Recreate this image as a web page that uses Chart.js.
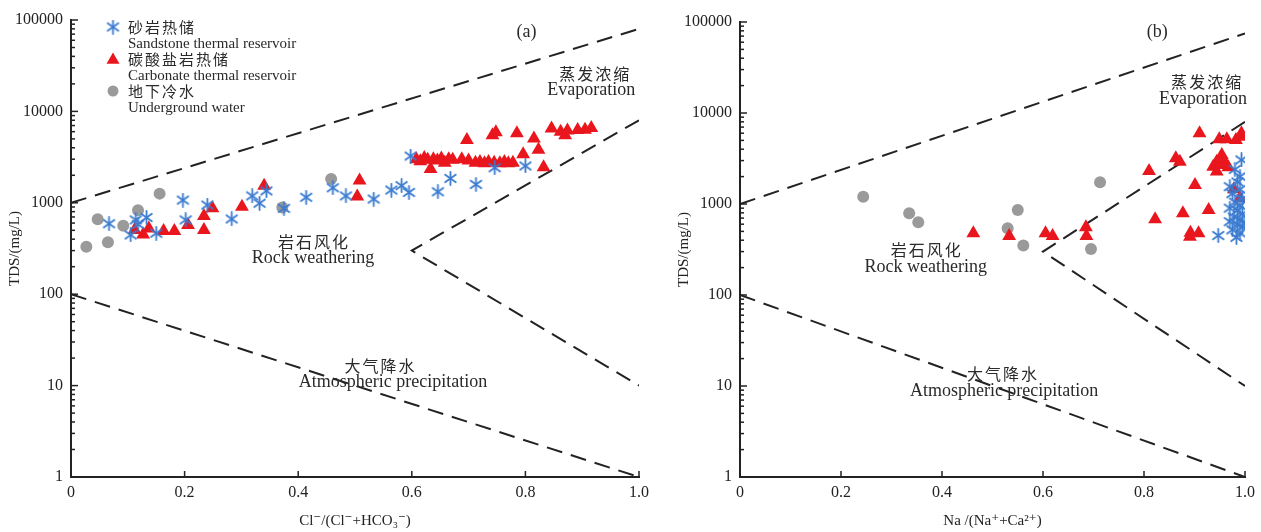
<!DOCTYPE html>
<html>
<head>
<meta charset="utf-8">
<script src="https://cdn.jsdelivr.net/npm/chart.js@4.4.1/dist/chart.umd.min.js"></script>
<style>
  html, body { margin: 0; padding: 0; background: #fff; }
  #wrap { position: relative; width: 1261px; height: 532px; }
  #boxA { position: absolute; left: 0; top: 0; width: 655px; height: 532px; }
  #boxB { position: absolute; left: 665px; top: 0; width: 596px; height: 532px; }
</style>
</head>
<body>
<div id="wrap">
  <div id="boxA"><canvas id="chartA"></canvas></div>
  <div id="boxB"><canvas id="chartB"></canvas></div>
</div>
<script>
// axis ticks
const xTicks = [0, 0.2, 0.4, 0.6, 0.8, 1.0];
const yTicks = [1, 10, 100, 1000, 10000, 100000];

// (a) Cl-/(Cl- + HCO3-) vs TDS
const sandstoneA = [
  [0.067, 590], [0.105, 445], [0.114, 650], [0.118, 580], [0.133, 690], [0.150, 465],
  [0.197, 1070], [0.202, 650], [0.240, 945], [0.283, 665], [0.319, 1190], [0.332, 990],
  [0.344, 1350], [0.375, 870], [0.414, 1150], [0.461, 1460], [0.484, 1190], [0.533, 1100],
  [0.564, 1380], [0.582, 1540], [0.595, 1300], [0.598, 3250], [0.646, 1320], [0.668, 1850],
  [0.713, 1590], [0.746, 2420], [0.800, 2530]
];
const carbonateA = [
  [0.112, 505], [0.127, 450], [0.137, 525], [0.163, 490], [0.182, 490], [0.206, 570],
  [0.234, 715], [0.234, 505], [0.249, 870], [0.301, 905], [0.340, 1540], [0.508, 1750],
  [0.504, 1170], [0.608, 3000], [0.615, 2850], [0.622, 3100], [0.628, 2950], [0.633, 2350],
  [0.638, 3000], [0.645, 2900], [0.652, 3050], [0.658, 2750], [0.665, 3000], [0.672, 2950],
  [0.688, 3000], [0.697, 4850], [0.700, 2900], [0.712, 2750], [0.720, 2800], [0.728, 2700],
  [0.735, 2800], [0.742, 5500], [0.748, 5900], [0.745, 2750], [0.755, 2700], [0.763, 2800],
  [0.770, 2700], [0.778, 2750], [0.785, 5750], [0.796, 3400], [0.815, 5050], [0.823, 3800],
  [0.832, 2450], [0.846, 6500], [0.862, 6000], [0.870, 5500], [0.874, 6200], [0.892, 6250],
  [0.905, 6300], [0.916, 6600]
];
const groundA = [
  [0.027, 330], [0.047, 660], [0.065, 370], [0.092, 560], [0.118, 830], [0.156, 1260],
  [0.372, 890], [0.458, 1820]
];

// (b) Na/(Na+Ca) vs TDS
const sandstoneB = [
  [0.947, 450], [0.983, 430], [0.990, 480], [0.975, 520], [0.995, 560], [0.985, 600],
  [0.970, 640], [0.990, 680], [1.000, 620], [0.978, 720], [0.995, 780], [0.985, 850],
  [0.970, 900], [0.990, 960], [0.980, 1050], [0.995, 1150], [0.975, 1300], [0.990, 1450],
  [0.970, 1550], [0.985, 1750], [0.990, 2000], [0.980, 2400], [0.993, 3050]
];
const carbonateB = [
  [0.462, 476], [0.533, 445], [0.605, 476], [0.619, 445], [0.685, 555], [0.686, 445],
  [0.810, 2300], [0.822, 680], [0.863, 3180], [0.871, 2920], [0.877, 790], [0.891, 437],
  [0.892, 484], [0.901, 1620], [0.908, 476], [0.910, 5980], [0.928, 860], [0.937, 2570],
  [0.944, 2920], [0.944, 2270], [0.949, 5140], [0.954, 3450], [0.957, 2680], [0.964, 5140],
  [0.967, 2530], [0.958, 3000], [0.978, 1450], [0.982, 5050], [0.990, 1160], [0.990, 5500],
  [0.993, 5980]
];
const groundB = [
  [0.244, 1200], [0.335, 790], [0.353, 630], [0.530, 540], [0.550, 860], [0.561, 350],
  [0.695, 320], [0.713, 1730]
];

// Gibbs boundary lines
const upperA = [[0, 1000], [1, 80000]];
const upperB = [[0, 1000], [1, 75000]];
const lowerLine = [[0, 100], [1, 1]];
const evapLine = [[1, 8000], [0.6, 300], [1, 10]];

// text labels: [text, x, y, kind]
const notesA = [
  ['(a)', 0.802, 74000, 'en'],
  ['蒸发浓缩', 0.923, 25600, 'zh'], ['Evaporation', 0.916, 17100, 'en'],
  ['岩石风化', 0.428, 373, 'zh'], ['Rock weathering', 0.426, 249, 'en'],
  ['大气降水', 0.545, 16.4, 'zh'], ['Atmospheric precipitation', 0.567, 10.9, 'en']
];
const notesB = [
  ['(b)', 0.826, 77600, 'en'],
  ['蒸发浓缩', 0.925, 21900, 'zh'], ['Evaporation', 0.917, 14100, 'en'],
  ['岩石风化', 0.370, 312, 'zh'], ['Rock weathering', 0.368, 203, 'en'],
  ['大气降水', 0.521, 13.5, 'zh'], ['Atmospheric precipitation', 0.523, 8.8, 'en']
];

const legendRows = [
  ['star', '砂岩热储', 'Sandstone thermal reservoir'],
  ['triangle', '碳酸盐岩热储', 'Carbonate thermal reservoir'],
  ['circle', '地下冷水', 'Underground water']
];

const SERIF = '"Liberation Serif", "DejaVu Serif", serif';
const CJK = '"Noto Sans CJK SC", sans-serif';
const BLUE = '#3a7bd0';
const RED = '#e9161d';
const GRAY = '#9a9a9a';
const INK = '#222';

// asterisk marker (X with a vertical bar)
function makeStar(size) {
  const c = document.createElement('canvas');
  c.width = size; c.height = size;
  const g = c.getContext('2d');
  const r = size / 2 - 1, m = size / 2;
  g.strokeStyle = BLUE; g.lineWidth = 1.8; g.lineCap = 'round';
  [90, 35, 145].forEach(a => {
    const t = a * Math.PI / 180, dx = Math.cos(t) * r, dy = Math.sin(t) * r;
    g.beginPath(); g.moveTo(m - dx, m - dy); g.lineTo(m + dx, m + dy); g.stroke();
  });
  return c;
}
const starImg = makeStar(15);

function drawTriangle(ctx, x, y, r) {
  ctx.beginPath();
  ctx.moveTo(x, y - r);
  ctx.lineTo(x + r * 0.866, y + r * 0.5);
  ctx.lineTo(x - r * 0.866, y + r * 0.5);
  ctx.closePath();
  ctx.fill();
}

const pts = arr => arr.map(p => ({ x: p[0], y: p[1] }));
const dashed = arr => ({
  data: pts(arr), showLine: true, borderColor: INK, borderWidth: 2,
  borderDash: [16, 9], pointRadius: 0, fill: false, tension: 0
});

function decor(cfg) {
  return {
    id: 'decor',
    afterDraw(chart) {
      const { ctx, chartArea: area, scales: { x, y } } = chart;
      ctx.save();
      ctx.strokeStyle = INK;
      ctx.lineWidth = 1.5;
      // inward ticks
      xTicks.forEach(v => {
        const px = x.getPixelForValue(v);
        ctx.beginPath(); ctx.moveTo(px, area.bottom); ctx.lineTo(px, area.bottom - 6); ctx.stroke();
      });
      yTicks.forEach((v, i) => {
        const steps = i === yTicks.length - 1 ? 1 : 9;
        for (let m = 1; m <= steps; m++) {
          const py = y.getPixelForValue(v * m);
          const len = m === 1 ? 7 : 4;
          ctx.beginPath(); ctx.moveTo(area.left, py); ctx.lineTo(area.left + len, py); ctx.stroke();
        }
      });
      // region labels
      ctx.fillStyle = '#2a2a2a';
      ctx.textAlign = 'center';
      ctx.textBaseline = 'middle';
      cfg.notes.forEach(([t, vx, vy, kind]) => {
        ctx.font = kind === 'zh' ? '16px ' + CJK : '18px ' + SERIF;
        ctx.letterSpacing = kind === 'zh' ? '2px' : '0px';
        ctx.fillText(t, x.getPixelForValue(vx), y.getPixelForValue(vy));
      });
      ctx.letterSpacing = '0px';
      // legend
      if (cfg.legend) {
        const mx = area.left + 42, tx = area.left + 57;
        ctx.textAlign = 'left';
        legendRows.forEach(([shape, zh, en], i) => {
          const cy = area.top + 7 + i * 32;
          if (shape === 'star') ctx.drawImage(starImg, mx - 7.5, cy - 7.5);
          else if (shape === 'triangle') { ctx.fillStyle = RED; drawTriangle(ctx, mx, cy + 1, 7.5); }
          else { ctx.fillStyle = GRAY; ctx.beginPath(); ctx.arc(mx, cy, 5.5, 0, Math.PI * 2); ctx.fill(); }
          ctx.fillStyle = '#2a2a2a';
          ctx.font = '15px ' + CJK;
          ctx.letterSpacing = '2px';
          ctx.fillText(zh, tx, cy);
          ctx.letterSpacing = '0px';
          ctx.font = '15px ' + SERIF;
          ctx.fillText(en, tx, cy + 17);
        });
      }
      ctx.restore();
    }
  };
}

function buildChart(id, cfg) {
  return new Chart(document.getElementById(id), {
    type: 'scatter',
    data: {
      datasets: [
        { data: pts(cfg.sandstone), pointStyle: starImg, pointRadius: 7 },
        { data: pts(cfg.carbonate), pointStyle: 'triangle', pointRadius: 8,
          backgroundColor: RED, borderColor: RED, borderWidth: 0 },
        { data: pts(cfg.ground), pointStyle: 'circle', pointRadius: 6,
          backgroundColor: GRAY, borderColor: GRAY, borderWidth: 0 },
        dashed(cfg.upper), dashed(lowerLine), dashed(evapLine)
      ]
    },
    options: {
      responsive: true,
      maintainAspectRatio: false,
      animation: false,
      layout: { padding: { left: 0, right: cfg.padRight, top: cfg.padTop, bottom: 0 } },
      plugins: { legend: { display: false }, tooltip: { enabled: false } },
      scales: {
        x: {
          type: 'linear', min: 0, max: 1,
          afterBuildTicks: s => { s.ticks = xTicks.map(v => ({ value: v })); },
          afterFit: s => { s.height = 55; },
          ticks: {
            callback: v => (v === 0 ? '0' : v.toFixed(1)),
            font: { family: SERIF, size: 16 }, color: INK, padding: 6,
            maxRotation: 0, autoSkip: false
          },
          grid: { display: false, drawTicks: false },
          border: { display: true, color: INK, width: 2 },
          title: {
            display: true, text: cfg.xTitle, color: INK,
            font: { family: SERIF, size: 15 }, padding: { top: 0, bottom: 2 }
          }
        },
        y: {
          type: 'logarithmic', min: 1, max: 100000,
          afterBuildTicks: s => { s.ticks = yTicks.map(v => ({ value: v })); },
          afterFit: s => { s.width = cfg.yWidth; },
          ticks: {
            callback: v => String(v),
            font: { family: SERIF, size: 16 }, color: INK, padding: 8, autoSkip: false
          },
          grid: { display: false, drawTicks: false },
          border: { display: true, color: INK, width: 2 },
          title: {
            display: true, text: 'TDS/(mg/L)', color: INK,
            font: { family: SERIF, size: 15 }, padding: { top: cfg.titlePad, bottom: 0 }
          }
        }
      }
    },
    plugins: [decor(cfg)]
  });
}

buildChart('chartA', {
  sandstone: sandstoneA, carbonate: carbonateA, ground: groundA,
  upper: upperA, notes: notesA, legend: true,
  xTitle: 'Cl⁻/(Cl⁻+HCO₃⁻)',
  yWidth: 71, padRight: 14, padTop: 20, titlePad: 6
});
buildChart('chartB', {
  sandstone: sandstoneB, carbonate: carbonateB, ground: groundB,
  upper: upperB, notes: notesB, legend: false,
  xTitle: 'Na /(Na⁺+Ca²⁺)',
  yWidth: 75, padRight: 16, padTop: 22, titlePad: 10
});
</script>
</body>
</html>
